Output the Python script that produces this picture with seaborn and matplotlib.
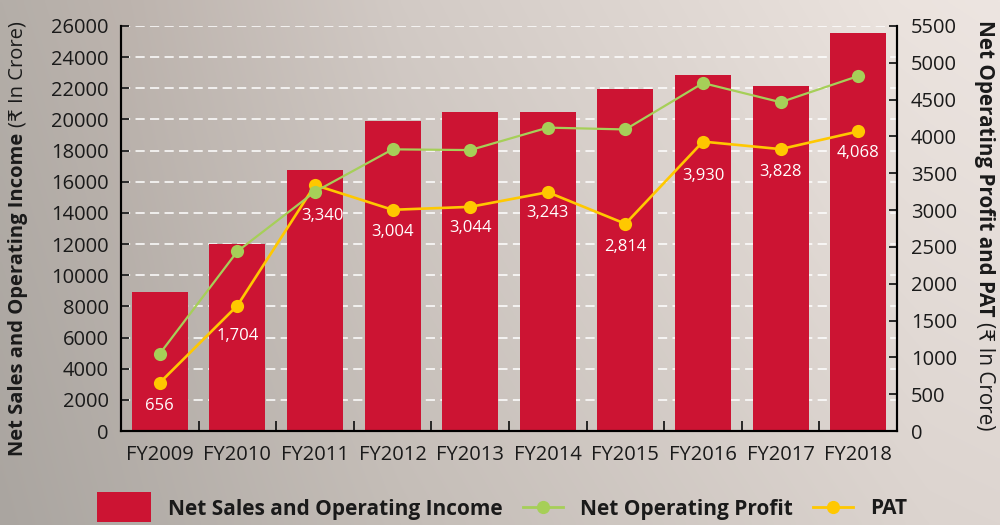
import numpy as np
import pandas as pd
import matplotlib
matplotlib.use("Agg")
import matplotlib.pyplot as plt
import seaborn as sns
from matplotlib.patches import Rectangle, Patch
from matplotlib.lines import Line2D
from matplotlib.legend_handler import HandlerBase

# ---------------- data ----------------
years = ["FY2009", "FY2010", "FY2011", "FY2012", "FY2013",
         "FY2014", "FY2015", "FY2016", "FY2017", "FY2018"]
net_sales = [8950, 12030, 16730, 19880, 20460, 20460, 21940, 22840, 22140, 25550]
net_op_profit = [1050, 2440, 3250, 3825, 3815, 4120, 4095, 4725, 4465, 4820]
pat = [656, 1704, 3340, 3004, 3044, 3243, 2814, 3930, 3828, 4068]
left_ticks = list(range(0, 26001, 2000))
right_ticks = list(range(0, 5501, 500))

# ---------------- style ----------------
BAR = "#cc1433"
GREEN = "#a6cf58"
YELLOW = "#ffc800"
TXT = "#1a1a1a"
FAM = ["Open Sans", "DejaVu Sans"]
label_dy = [23, 30, 31, 22, 21, 21, 23, 34, 23, 22]
label_dx = [0, 0, 8, 0, 0, 0, 0, 0, 0, 0]

plt.rcParams["font.family"] = FAM
plt.rcParams["text.color"] = TXT
plt.rcParams["axes.labelcolor"] = TXT
plt.rcParams["xtick.color"] = TXT
plt.rcParams["ytick.color"] = TXT

fig = plt.figure(figsize=(10, 5.25), dpi=100)

# background gradient
W, H = 250, 131
xs = np.linspace(0, 1, W)
top_x = [0, 0.13, 0.4, 0.9, 1.0]
top_c = np.array([(180, 174, 168), (189, 180, 174), (210, 202, 197), (235, 227, 222), (237, 229, 225)]) / 255
bot_x = [0, 0.4, 0.93, 1.0]
bot_c = np.array([(170, 165, 160), (196, 189, 183), (220, 212, 207), (221, 213, 208)]) / 255
top_row = np.stack([np.interp(xs, top_x, top_c[:, k]) for k in range(3)], axis=-1)
bot_row = np.stack([np.interp(xs, bot_x, bot_c[:, k]) for k in range(3)], axis=-1)
t = np.linspace(0, 1, H)[:, None, None]
img = top_row[None] * (1 - t) + bot_row[None] * t
bg = fig.add_axes([0, 0, 1, 1])
bg.imshow(img, aspect="auto", extent=(0, 1, 0, 1), interpolation="bilinear")
bg.axis("off")
bg.set_zorder(-5)

ax = fig.add_axes([0.121, 0.179, 0.776, 0.7715])
ax.set_facecolor("none")
xpos = np.arange(len(years))

df = pd.DataFrame({"year": years, "sales": net_sales, "nop": net_op_profit, "pat": pat, "x": xpos})
sns.barplot(data=df, x="year", y="sales", color=BAR, saturation=1, width=0.72, ax=ax, zorder=2)
ax.set_ylim(0, 26000)
ax.set_yticks(left_ticks)
ax.yaxis.grid(True, color="white", linestyle=(0, (6, 3.5)), linewidth=1.1)
ax.set_axisbelow(True)
ax.set_xlabel("")
ax.set_ylabel("")

ax2 = ax.twinx()
sns.lineplot(data=df, x="x", y="pat", color=YELLOW, marker="o", markersize=9.5,
             markeredgewidth=0, linewidth=1.9, ax=ax2, zorder=3)
sns.lineplot(data=df, x="x", y="nop", color=GREEN, marker="o", markersize=9.5,
             markeredgewidth=0, linewidth=1.6, ax=ax2, zorder=4)
ax2.set_ylim(0, 5500)
ax2.set_yticks(right_ticks)
ax2.set_xlabel("")
ax2.set_ylabel("")
ax.set_xlim(-0.5, len(years) - 0.5)

for i, v in enumerate(pat):
    ax2.annotate(f"{v:,}", (xpos[i], v), xytext=(label_dx[i], -label_dy[i]),
                 textcoords="offset pixels", ha="center", va="center",
                 color="white", fontsize=12, zorder=5)

# axes styling
for a in (ax, ax2):
    a.spines["top"].set_visible(False)
    for s in ("left", "right", "bottom"):
        a.spines[s].set_linewidth(1.5)
        a.spines[s].set_color("black")
ax.tick_params(axis="y", direction="in", length=6, width=1.3, pad=9, labelsize=14.5)
ax2.tick_params(axis="y", direction="in", length=6, width=1.3, pad=10, labelsize=14.5)
ax.set_xticks(xpos)
ax.set_xticklabels(years)
ax.tick_params(axis="x", which="major", length=0, pad=10, labelsize=14.5)
ax.set_xticks(xpos[:-1] + 0.5, minor=True)
ax.tick_params(axis="x", which="minor", direction="in", length=7, width=1.3)

# y axis titles with mixed weights
fig.canvas.draw()
r = fig.canvas.get_renderer()
pxh = fig.get_figheight() * fig.dpi
pxw = fig.get_figwidth() * fig.dpi

# left: reads bottom-to-top
fs_l = 14.5
x_l, y_l = 18 / pxw, 1 - 456 / pxh
t1 = fig.text(x_l, y_l, "Net Sales and Operating Income", rotation=90, rotation_mode="anchor",
              ha="left", va="center", fontsize=fs_l, fontweight="bold", family=FAM)
h1 = t1.get_window_extent(r).height
fig.text(x_l, y_l + (h1 + 6) / pxh, "(₹ In Crore)", rotation=90, rotation_mode="anchor",
         ha="left", va="center", fontsize=fs_l, family=FAM)

# right: reads top-to-bottom
fs_r = 14.9
x_r, y_r = 984 / pxw, 1 - 20 / pxh
t2 = fig.text(x_r, y_r, "Net Operating Profit and PAT", rotation=270, rotation_mode="anchor",
              ha="left", va="center", fontsize=fs_r, fontweight="bold", family=FAM)
h2 = t2.get_window_extent(r).height
fig.text(x_r, y_r - (h2 + 6) / pxh, "(₹ In Crore)", rotation=270, rotation_mode="anchor",
         ha="left", va="center", fontsize=fs_r, family=FAM)

# legend
LEG_FS = 15
RECT_W = 54 / 1.389
RECT_H = 30 / 1.389


class RectHandler(HandlerBase):
    def create_artists(self, legend, orig, xd, yd, width, height, fontsize, trans):
        rect = Rectangle((width - RECT_W - xd, -yd + height / 2 - RECT_H / 2), RECT_W, RECT_H,
                         facecolor=orig.get_facecolor(), edgecolor="none", transform=trans)
        return [rect]


handles = [
    Patch(facecolor=BAR),
    Line2D([], [], color=GREEN, marker="o", markersize=9.5, markeredgewidth=0, linewidth=2),
    Line2D([], [], color=YELLOW, marker="o", markersize=9.5, markeredgewidth=0, linewidth=2),
]
labels = ["Net Sales and Operating Income", "Net Operating Profit", "PAT"]
fig.legend(handles, labels, handler_map={Patch: RectHandler()}, loc="center",
           bbox_to_anchor=(509 / 1000, 1 - 509 / 525), ncol=3, frameon=False,
           prop={"weight": "bold", "size": LEG_FS, "family": FAM},
           handlelength=28.8 / LEG_FS, handletextpad=0.82, columnspacing=0.96,
           numpoints=1, borderaxespad=0, borderpad=0)

fig.savefig("out.png", dpi=100)
